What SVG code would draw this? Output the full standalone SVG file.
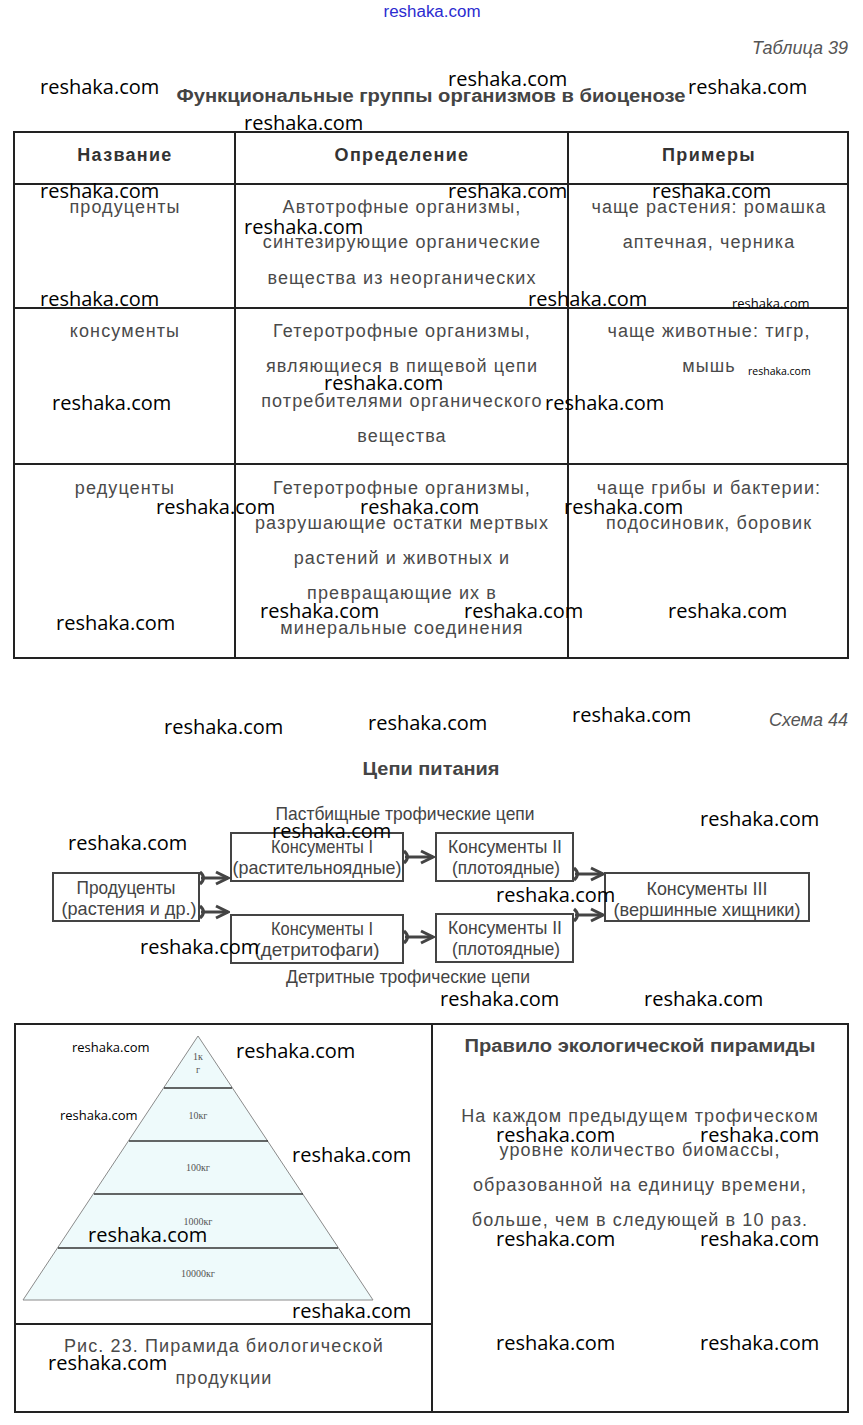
<svg xmlns="http://www.w3.org/2000/svg" width="863" height="1425" viewBox="0 0 863 1425">
<style>
.bg{fill:#fff}
.ln{stroke:#222;stroke-width:2;fill:none}
.th{font-family:"Liberation Sans",Arial,sans-serif;font-size:18px;font-weight:bold;fill:#333;text-anchor:middle;letter-spacing:1.3px}
.td{font-family:"Liberation Sans",Arial,sans-serif;font-size:18px;fill:#4a4a4a;text-anchor:middle;letter-spacing:1.1px}
.ttl{font-family:"Liberation Sans",Arial,sans-serif;font-size:18px;font-weight:bold;fill:#444;text-anchor:middle}
.cap{font-family:"Liberation Sans",Arial,sans-serif;font-size:18px;font-style:italic;fill:#555;text-anchor:end}
.sc{font-family:"Liberation Sans",Arial,sans-serif;font-size:19px;fill:#444;text-anchor:middle}
.box{fill:#fff;stroke:#444;stroke-width:2}
.arr{stroke:#444;stroke-width:3;fill:none;marker-start:url(#tail);marker-end:url(#head)}
.pyr{fill:#eefafb;stroke:#8a8a8a;stroke-width:1}
.pl{stroke:#333;stroke-width:1.5}
.pt{font-family:"Liberation Serif","Times New Roman",serif;font-size:10px;fill:#555;text-anchor:middle}
.wm{font-family:"Open Sans","DejaVu Sans",sans-serif;font-size:20px;fill:#000}
.wms{font-family:"Open Sans","DejaVu Sans",sans-serif;font-size:13px;fill:#000}
.wmx{font-family:"Open Sans","DejaVu Sans",sans-serif;font-size:10.5px;fill:#000}
</style>
<defs>
<marker id="head" markerUnits="userSpaceOnUse" markerWidth="16" markerHeight="16" viewBox="0 0 16 16" refX="14" refY="8" orient="auto">
<path d="M2,2 L14,8 L2,14" fill="none" stroke="#444" stroke-width="3"/>
</marker>
<marker id="tail" markerUnits="userSpaceOnUse" markerWidth="10" markerHeight="16" viewBox="0 0 10 16" refX="2" refY="8" orient="auto">
<path d="M1,2 Q8,8 1,14" fill="none" stroke="#444" stroke-width="3"/>
</marker>
</defs>
<rect class="bg" x="0" y="0" width="863" height="1425"/>

<text x="432" y="17" font-family="Liberation Sans,Arial,sans-serif" font-size="16" fill="#2b2bd0" text-anchor="middle" textLength="97" lengthAdjust="spacingAndGlyphs">reshaka.com</text>

<g id="table39">
<text class="cap" x="848" y="54">Таблица 39</text>
<text class="ttl" x="431" y="102" textLength="509" lengthAdjust="spacingAndGlyphs">Функциональные группы организмов в биоценозе</text>
<rect class="ln" x="14" y="132" width="834" height="526"/>
<line class="ln" x1="235" y1="132" x2="235" y2="658"/>
<line class="ln" x1="568" y1="132" x2="568" y2="658"/>
<line class="ln" x1="14" y1="184" x2="848" y2="184"/>
<line class="ln" x1="14" y1="308" x2="848" y2="308"/>
<line class="ln" x1="14" y1="464" x2="848" y2="464"/>
<g id="header">
<text class="th" x="125" y="161">Название</text>
<text class="th" x="402" y="161">Определение</text>
<text class="th" x="709" y="161">Примеры</text>
</g>
<g id="row-producers">
<text class="td" x="125" y="213">продуценты</text>
<text class="td" x="402" y="213">Автотрофные организмы,</text>
<text class="td" x="402" y="248">синтезирующие органические</text>
<text class="td" x="402" y="284">вещества из неорганических</text>
<text class="td" x="709" y="213">чаще растения: ромашка</text>
<text class="td" x="709" y="248">аптечная, черника</text>
</g>
<g id="row-consumers">
<text class="td" x="125" y="337">консументы</text>
<text class="td" x="402" y="337">Гетеротрофные организмы,</text>
<text class="td" x="402" y="372">являющиеся в пищевой цепи</text>
<text class="td" x="402" y="407">потребителями органического</text>
<text class="td" x="402" y="442">вещества</text>
<text class="td" x="709" y="337">чаще животные: тигр,</text>
<text class="td" x="709" y="372">мышь</text>
</g>
<g id="row-reducers">
<text class="td" x="125" y="494">редуценты</text>
<text class="td" x="402" y="494">Гетеротрофные организмы,</text>
<text class="td" x="402" y="529">разрушающие остатки мертвых</text>
<text class="td" x="402" y="564">растений и животных и</text>
<text class="td" x="402" y="599">превращающие их в</text>
<text class="td" x="402" y="634">минеральные соединения</text>
<text class="td" x="709" y="494">чаще грибы и бактерии:</text>
<text class="td" x="709" y="529">подосиновик, боровик</text>
</g>
</g>

<g id="scheme44">
<text class="cap" x="848" y="726">Схема 44</text>
<text class="ttl" x="431" y="775" textLength="137" lengthAdjust="spacingAndGlyphs">Цепи питания</text>
<text class="sc" x="405" y="820" textLength="259" lengthAdjust="spacingAndGlyphs">Пастбищные трофические цепи</text>
<text class="sc" x="408" y="983" textLength="244" lengthAdjust="spacingAndGlyphs">Детритные трофические цепи</text>
</g>

<g id="connectors">
<line class="arr" x1="201" y1="878" x2="228" y2="878"/>
<line class="arr" x1="201" y1="912" x2="228" y2="912"/>
<line class="arr" x1="405" y1="857" x2="433" y2="857"/>
<line class="arr" x1="405" y1="937" x2="433" y2="937"/>
<line class="arr" x1="575" y1="874" x2="603" y2="874"/>
<line class="arr" x1="575" y1="915" x2="603" y2="915"/>
</g>

<g id="producers">
<rect class="box" x="53" y="873" width="146" height="48"/>
<text class="sc" x="126" y="894" textLength="99" lengthAdjust="spacingAndGlyphs">Продуценты</text>
<text class="sc" x="129" y="915" textLength="135" lengthAdjust="spacingAndGlyphs">(растения и др.)</text>
</g>
<g id="consumers1-graze">
<rect class="box" x="231" y="833" width="172" height="48"/>
<text class="sc" x="322" y="853" textLength="102" lengthAdjust="spacingAndGlyphs">Консументы I</text>
<text class="sc" x="317" y="874" textLength="169" lengthAdjust="spacingAndGlyphs">(растительноядные)</text>
</g>
<g id="consumers1-detrit">
<rect class="box" x="231" y="915" width="172" height="48"/>
<text class="sc" x="322" y="935" textLength="102" lengthAdjust="spacingAndGlyphs">Консументы I</text>
<text class="sc" x="317" y="956" textLength="125" lengthAdjust="spacingAndGlyphs">(детритофаги)</text>
</g>
<g id="consumers2-graze">
<rect class="box" x="436" y="833" width="137" height="48"/>
<text class="sc" x="505" y="853" textLength="114" lengthAdjust="spacingAndGlyphs">Консументы II</text>
<text class="sc" x="506" y="874" textLength="108" lengthAdjust="spacingAndGlyphs">(плотоядные)</text>
</g>
<g id="consumers2-detrit">
<rect class="box" x="436" y="914" width="137" height="48"/>
<text class="sc" x="505" y="934" textLength="114" lengthAdjust="spacingAndGlyphs">Консументы II</text>
<text class="sc" x="506" y="955" textLength="108" lengthAdjust="spacingAndGlyphs">(плотоядные)</text>
</g>
<g id="consumers3">
<rect class="box" x="605" y="873" width="204" height="48"/>
<text class="sc" x="707" y="895" textLength="121" lengthAdjust="spacingAndGlyphs">Консументы III</text>
<text class="sc" x="707" y="916" textLength="187" lengthAdjust="spacingAndGlyphs">(вершинные хищники)</text>
</g>

<g id="pyramid-panel">
<rect class="ln" x="15" y="1024" width="833" height="388"/>
<line class="ln" x1="432" y1="1024" x2="432" y2="1412"/>
<line class="ln" x1="15" y1="1324" x2="432" y2="1324"/>
<polygon class="pyr" points="198,1036 373,1300 23,1300"/>
<line class="pl" x1="164" y1="1088" x2="232" y2="1088"/>
<line class="pl" x1="129" y1="1141" x2="268" y2="1141"/>
<line class="pl" x1="94" y1="1194" x2="303" y2="1194"/>
<line class="pl" x1="58" y1="1248" x2="338" y2="1248"/>
<text class="pt" x="198" y="1060">1к</text>
<text class="pt" x="198" y="1073">г</text>
<text class="pt" x="198" y="1119">10кг</text>
<text class="pt" x="198" y="1171">100кг</text>
<text class="pt" x="198" y="1225">1000кг</text>
<text class="pt" x="198" y="1277">10000кг</text>
<text class="td" x="224" y="1352" font-size="19" letter-spacing="0.8">Рис. 23. Пирамида биологической</text>
<text class="td" x="224" y="1384" font-size="19" letter-spacing="0.8">продукции</text>
</g>
<g id="rule-panel">
<text class="ttl" x="640" y="1052" textLength="351" lengthAdjust="spacingAndGlyphs">Правило экологической пирамиды</text>
<text class="td" x="640" y="1122">На каждом предыдущем трофическом</text>
<text class="td" x="640" y="1156">уровне количество биомассы,</text>
<text class="td" x="640" y="1191">образованной на единицу времени,</text>
<text class="td" x="640" y="1226">больше, чем в следующей в 10 раз.</text>
</g>

<g id="watermarks">
<text class="wm" x="40" y="94">reshaka.com</text>
<text class="wm" x="448" y="86">reshaka.com</text>
<text class="wm" x="688" y="94">reshaka.com</text>
<text class="wm" x="244" y="130">reshaka.com</text>
<text class="wm" x="40" y="198">reshaka.com</text>
<text class="wm" x="448" y="198">reshaka.com</text>
<text class="wm" x="652" y="198">reshaka.com</text>
<text class="wm" x="244" y="234">reshaka.com</text>
<text class="wm" x="40" y="306">reshaka.com</text>
<text class="wm" x="528" y="306">reshaka.com</text>
<text class="wms" x="732" y="308">reshaka.com</text>
<text class="wm" x="52" y="410">reshaka.com</text>
<text class="wm" x="324" y="390">reshaka.com</text>
<text class="wm" x="545" y="410">reshaka.com</text>
<text class="wmx" x="748" y="375">reshaka.com</text>
<text class="wm" x="156" y="514">reshaka.com</text>
<text class="wm" x="360" y="514">reshaka.com</text>
<text class="wm" x="564" y="514">reshaka.com</text>
<text class="wm" x="56" y="630">reshaka.com</text>
<text class="wm" x="260" y="618">reshaka.com</text>
<text class="wm" x="464" y="618">reshaka.com</text>
<text class="wm" x="668" y="618">reshaka.com</text>
<text class="wm" x="164" y="734">reshaka.com</text>
<text class="wm" x="368" y="730">reshaka.com</text>
<text class="wm" x="572" y="722">reshaka.com</text>
<text class="wm" x="68" y="850">reshaka.com</text>
<text class="wm" x="272" y="838">reshaka.com</text>
<text class="wm" x="700" y="826">reshaka.com</text>
<text class="wm" x="496" y="902">reshaka.com</text>
<text class="wm" x="140" y="954">reshaka.com</text>
<text class="wm" x="440" y="1006">reshaka.com</text>
<text class="wm" x="644" y="1006">reshaka.com</text>
<text class="wms" x="72" y="1052">reshaka.com</text>
<text class="wm" x="236" y="1058">reshaka.com</text>
<text class="wms" x="60" y="1120">reshaka.com</text>
<text class="wm" x="292" y="1162">reshaka.com</text>
<text class="wm" x="88" y="1242">reshaka.com</text>
<text class="wm" x="292" y="1318">reshaka.com</text>
<text class="wm" x="48" y="1370">reshaka.com</text>
<text class="wm" x="496" y="1142">reshaka.com</text>
<text class="wm" x="700" y="1142">reshaka.com</text>
<text class="wm" x="496" y="1246">reshaka.com</text>
<text class="wm" x="700" y="1246">reshaka.com</text>
<text class="wm" x="496" y="1350">reshaka.com</text>
<text class="wm" x="700" y="1350">reshaka.com</text>
</g>
</svg>
